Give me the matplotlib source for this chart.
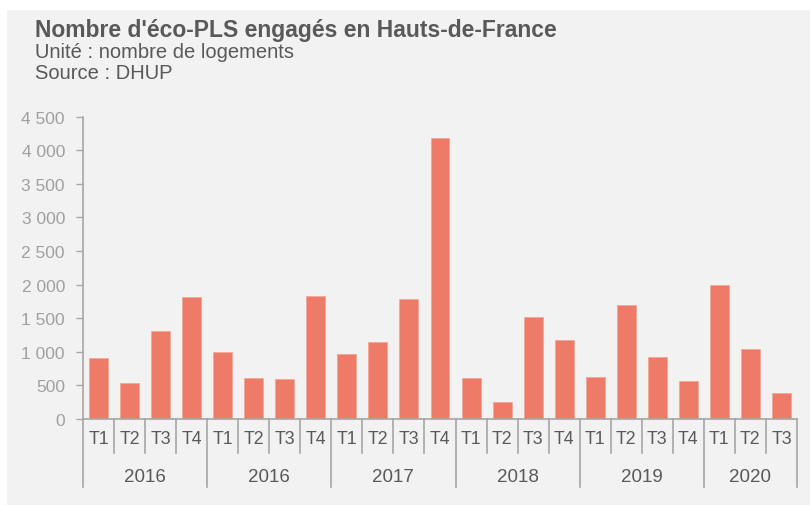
import matplotlib.pyplot as plt
from matplotlib.patches import Rectangle
from matplotlib.ticker import FuncFormatter

plt.rcParams["font.family"] = ["Liberation Sans", "DejaVu Sans"]

# Data
years = ["2016", "2016", "2017", "2018", "2019", "2020"]
quarters_per_year = [4, 4, 4, 4, 4, 3]
quarters = ["T1", "T2", "T3", "T4"] * 5 + ["T1", "T2", "T3"]
values = [908, 536, 1310, 1811,
          998, 605, 600, 1831,
          968, 1151, 1787, 4189,
          610, 258, 1519, 1171,
          625, 1702, 923, 561,
          1990, 1042, 382]

bar_color = "#ee7b67"
text_color = "#595959"
axis_color = "#a6a6a6"
bg_color = "#f2f2f2"

fig = plt.figure(figsize=(8.1, 5.06), dpi=100)
fig.patch.set_facecolor("white")

# Gray panel behind the whole chart
fig.patches.append(Rectangle((7 / 810, 0), 1, 1 - 11 / 506,
                             transform=fig.transFigure, facecolor=bg_color,
                             edgecolor="none", zorder=-10))

ax = fig.add_axes([83 / 810, 86 / 506, 714 / 810, 302.3 / 506])
ax.set_facecolor("none")

x = list(range(len(values)))
ax.bar(x, values, width=0.61, color=bar_color, edgecolor="#f3a798",
       linewidth=0.6)

ax.set_xlim(-0.5, len(values) - 0.5)
ax.set_ylim(0, 4500)
ax.set_yticks(range(0, 4501, 500))
ax.yaxis.set_major_formatter(FuncFormatter(lambda v, p: f"{int(v):,}".replace(",", " ")))
ax.tick_params(axis="y", colors=axis_color, labelcolor="#a0a0a0", labelsize=12.5,
               length=5, width=1, pad=8)
ax.set_xticks([])

for side in ["top", "right"]:
    ax.spines[side].set_visible(False)
for side in ["left", "bottom"]:
    ax.spines[side].set_color(axis_color)
    ax.spines[side].set_linewidth(1.2)

# Hierarchical category axis
trans = ax.get_xaxis_transform()
for i, q in enumerate(quarters):
    ax.text(i, -0.066, q, transform=trans, ha="center", va="center",
            fontsize=12.8, color=text_color)

boundaries = [-0.5]
for n in quarters_per_year:
    boundaries.append(boundaries[-1] + n)

for i in range(len(values) + 1):
    b = i - 0.5
    low = -0.225 if b in boundaries else -0.1125
    ax.plot([b, b], [0, low], transform=trans, color=axis_color, lw=1.2,
            clip_on=False)

for k, year in enumerate(years):
    mid = (boundaries[k] + boundaries[k + 1]) / 2
    ax.text(mid, -0.189, year, transform=trans, ha="center", va="center",
            fontsize=13.5, color=text_color)

# Header
fig.text(35 / 810, 1 - 37 / 506, "Nombre d'éco-PLS engagés en Hauts-de-France",
         fontsize=16.5, fontweight="bold", color=text_color, va="baseline")
fig.text(35 / 810, 1 - 58 / 506, "Unité : nombre de logements",
         fontsize=14.5, color=text_color, va="baseline")
fig.text(35 / 810, 1 - 79 / 506, "Source : DHUP",
         fontsize=14.5, color=text_color, va="baseline")

fig.savefig("out.png", dpi=100)
